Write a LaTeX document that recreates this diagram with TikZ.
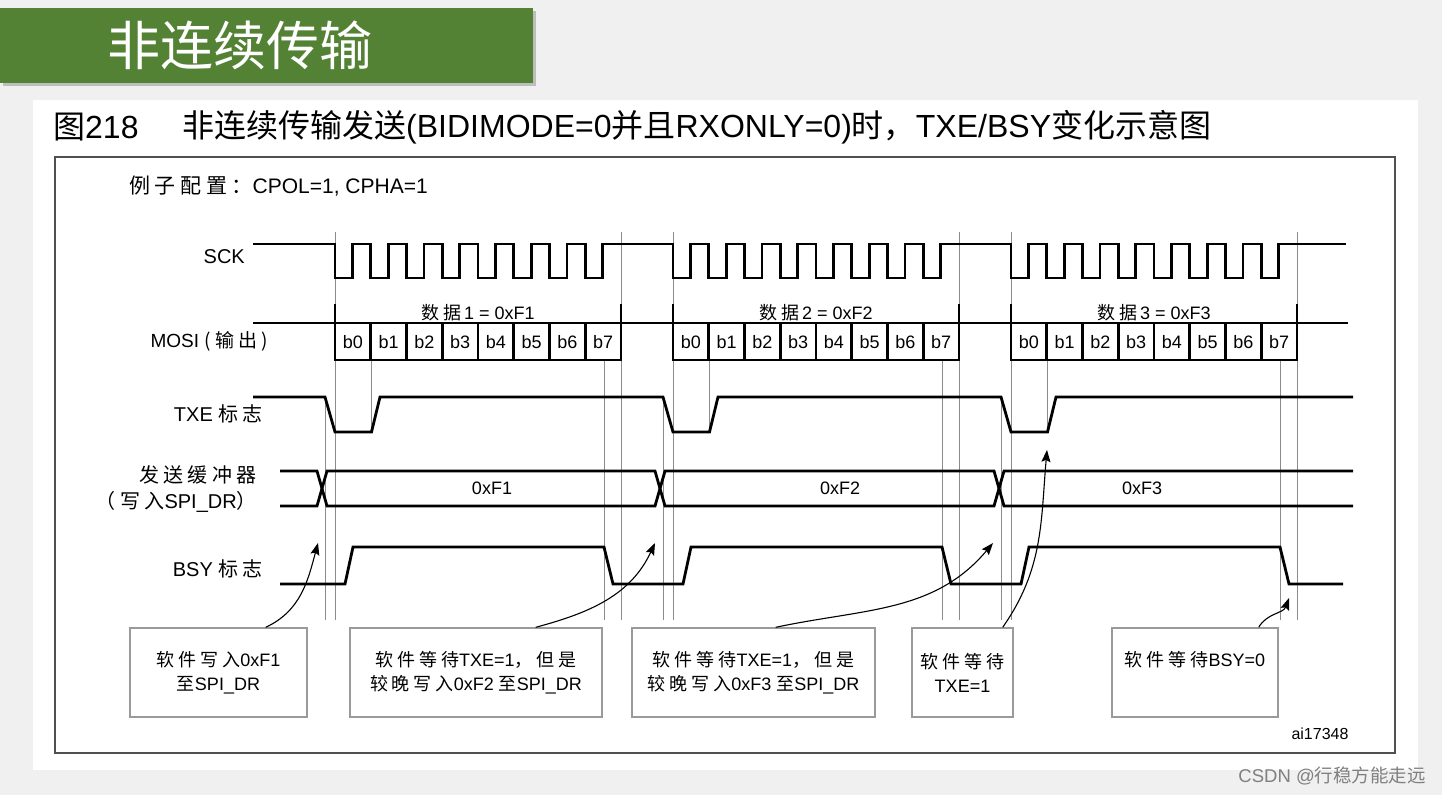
\documentclass[tikz,border=0pt]{standalone}
\usepackage{fontspec}
\setmainfont{Liberation Sans}
\newfontfamily\cjkfont{Noto Sans CJK SC}
\newfontfamily\cjkwide[LetterSpace=22]{Noto Sans CJK SC}
\newcommand{\cn}[1]{{\cjkfont #1}}
\newcommand{\zh}[1]{{\cjkwide #1}}
\usepackage{tikz}
\usetikzlibrary{arrows.meta, positioning, shadows}

\definecolor{pagegray}{HTML}{F0F0F0}
\definecolor{bargreen}{HTML}{548235}
\definecolor{guidegray}{HTML}{8C8C8C}
\definecolor{framegray}{HTML}{505050}
\definecolor{boxgray}{HTML}{9A9A9A}

\tikzstyle{wave} = [line width=2.8pt, black, line join=miter]
\tikzstyle{guide} = [line width=0.9pt, guidegray]
\tikzstyle{note} = [
  rectangle, draw=boxgray, line width=1.4pt, fill=white,
  minimum height=89pt, inner sep=0pt, align=center,
  font=\fontsize{18}{24}\selectfont
]
\tikzstyle{pointer} = [-{Stealth[length=12pt,width=9pt,inset=2pt]}, line width=1.1pt]
\tikzstyle{siglabel} = [anchor=east, inner sep=0pt, align=right, font=\fontsize{20}{26}\selectfont]
\tikzstyle{bitlabel} = [inner sep=0pt, font=\fontsize{18}{20}\selectfont]

\begin{document}
\begin{tikzpicture}[x=1pt, y=1pt]

  % Page and panel
  \fill[pagegray] (0,0) rectangle (1442,-795);
  \useasboundingbox (0,0) rectangle (1442,-795);
  \fill[white] (33,-100) rectangle (1418,-770);

  % Title bar
  \node[fill=bargreen, minimum width=533pt, minimum height=75pt, inner sep=0pt,
        drop shadow={shadow xshift=3pt, shadow yshift=-3pt, opacity=0.45}]
    (bar) at (266.5,-45.5) {};
  \node[text=white, font=\fontsize{53}{60}\selectfont] (title) at (240,-45) {\cn{非连续传输}};

  % Caption
  \node[anchor=west, inner sep=0pt, font=\fontsize{32}{36}\selectfont] (fignum) at (53,-127) {\cn{图}218};
  \node[anchor=west, inner sep=0pt, font=\fontsize{32}{36}\selectfont] (caption) at (182,-127)
    {\cn{非连续传输发送}(BIDIMODE=0\cn{并且}RXONLY=0)\cn{时，}TXE/BSY\cn{变化示意图}};

  % Frame
  \draw[framegray, line width=2.2pt] (55,-157) rectangle (1395,-753);
  \node[anchor=west, inner sep=0pt, font=\fontsize{21}{24}\selectfont] (config) at (129,-186)
    {\zh{例子配置：}CPOL=1, CPHA=1};

  % Guide lines
  \foreach \s in {335,673,1011} {
    \draw[guide] (\s,-232) -- (\s,-620);
    \draw[guide] (\s+286,-232) -- (\s+286,-620);
    \draw[guide] (\s-10,-397) -- (\s-10,-620);
    \draw[guide] (\s+36.5,-360) -- (\s+36.5,-432);
    \draw[guide] (\s+269,-360) -- (\s+269,-620);
  }

  % SCK
  \node[siglabel] (sck) at (245,-257) {SCK};
  \draw[wave] (253,-244) \foreach \s in {335,673,1011} { -- (\s,-244)
    \foreach \k in {0,...,7} { -- ({\s+\k*35.75},-244) -- ({\s+\k*35.75},-278)
      -- ({\s+\k*35.75+17.5},-278) -- ({\s+\k*35.75+17.5},-244) } } -- (1346,-244);

  % MOSI
  \node[siglabel, font=\fontsize{19}{26}\selectfont] (mosi) at (268,-341) {MOSI \zh{(输出)}};
  \draw[wave] (253,-323) -- (1348,-323);
  \foreach \s/\n/\hex in {335/1/F1, 673/2/F2, 1011/3/F3} {
    \draw[wave] (\s,-304) -- (\s,-360) -- (\s+286,-360) -- (\s+286,-304);
    \foreach \k in {1,...,7}
      \draw[wave] ({\s+\k*35.75},-323) -- ({\s+\k*35.75},-360);
    \foreach \k in {0,...,7}
      \node[bitlabel] (bit\n\k) at ({\s+\k*35.75+17.9},-342) {b\k};
    \node[inner sep=0pt, font=\fontsize{18}{20}\selectfont] (data\n) at (\s+143,-313)
      {\zh{数据}\,\n\ =\ 0x\hex};
  }

  % TXE
  \node[siglabel] (txe) at (263,-414) {TXE \zh{标志}};
  \draw[wave] (253,-397) \foreach \s in {335,673,1011} {
    -- (\s-10,-397) -- (\s,-432) -- (\s+36.5,-432) -- (\s+45,-397) } -- (1353,-397);

  % Transmit buffer
  \node[siglabel] (buf) at (257,-489) {\zh{发送缓冲器}\\\zh{（写入}SPI\_DR\cn{）}};
  \draw[wave] (280,-471) \foreach \c/\a/\b in {322/-471/-506, 660/-506/-471, 999/-471/-506} {
    -- (\c-5,\a) -- (\c+5,\b) } -- (1353,-506);
  \draw[wave] (280,-506) \foreach \c/\a/\b in {322/-506/-471, 660/-471/-506, 999/-506/-471} {
    -- (\c-5,\a) -- (\c+5,\b) } -- (1353,-471);
  \node[bitlabel] (val1) at (492,-488) {0xF1};
  \node[bitlabel] (val2) at (840,-488) {0xF2};
  \node[bitlabel] (val3) at (1142,-488) {0xF3};

  % BSY
  \node[siglabel] (bsy) at (263,-569) {BSY \zh{标志}};
  \draw[wave] (280,-584) \foreach \s in {335,673,1011} {
    -- (\s+10,-584) -- (\s+18,-547) -- (\s+269,-547) -- (\s+278,-584) } -- (1343,-584);

  % Notes
  \node[note, minimum width=177pt] (n1) at (218.5,-672.5) {\zh{软件写入}0xF1\\\zh{至}SPI\_DR};
  \node[note, minimum width=252pt] (n2) at (476,-672.5)
    {\zh{软件等待}TXE=1\zh{，但是}\\\zh{较晚写入}0xF2 \zh{至}SPI\_DR};
  \node[note, minimum width=243pt] (n3) at (753.5,-672.5)
    {\zh{软件等待}TXE=1\zh{，但是}\\\zh{较晚写入}0xF3 \zh{至}SPI\_DR};
  \node[note, minimum width=101pt] (n4) at (962.5,-672.5) {\zh{软件等待}\\TXE=1};
  \node[note, minimum width=166pt] (n5) at (1195,-672.5) {};
  \node[below=24pt of n5.north, inner sep=0pt, font=\fontsize{18}{24}\selectfont] (n5text)
    {\zh{软件等待}BSY=0};

  % Pointer targets
  \coordinate (w1) at (318,-543);
  \coordinate (w2) at (655,-543);
  \coordinate (w3) at (993,-543);
  \coordinate (w4) at (1047,-450);
  \coordinate (w5) at (1289,-598);

  \draw[pointer] ([xshift=-42pt]n1.north east) to[out=25,in=-105] (w1);
  \draw[pointer] ([xshift=-67pt]n2.north east) to[out=15,in=-115] (w2);
  \draw[pointer] ([xshift=-100pt]n3.north east) to[out=12,in=-130] (w3);
  \draw[pointer] ([xshift=-11pt]n4.north east) to[out=55,in=-95] (w4);
  \draw[pointer] ([xshift=-20pt]n5.north east) to[out=60,in=-110] (w5);

  \node[inner sep=0pt, font=\fontsize{16}{18}\selectfont] (figid) at (1320,-734) {ai17348};
  \node[anchor=east, inner sep=0pt, text=gray, font=\fontsize{18.5}{20}\selectfont] (mark) at (1426,-776)
    {CSDN @\cn{行稳方能走远}};

\end{tikzpicture}
\end{document}
